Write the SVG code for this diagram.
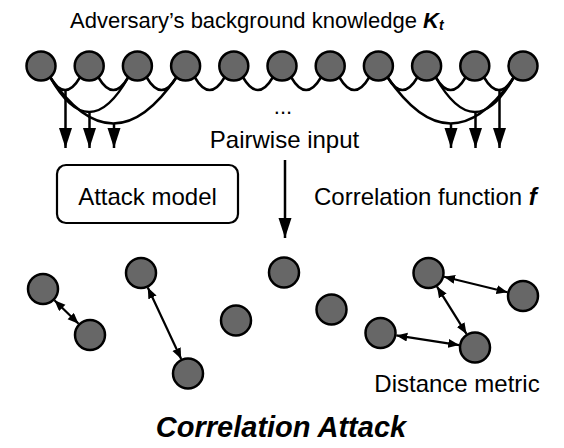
<svg xmlns="http://www.w3.org/2000/svg" width="564" height="448" viewBox="0 0 564 448">
<style>
text{font-family:"Liberation Sans",Arial,Helvetica,sans-serif;fill:#000}
.n{fill:#676767;stroke:#000;stroke-width:2.5}
.c{fill:none;stroke:#000;stroke-width:2.5}
.a{fill:none;stroke:#000;stroke-width:2.5;marker-end:url(#big)}
.d{fill:none;stroke:#000;stroke-width:2.2;marker-start:url(#sm);marker-end:url(#sm)}
.t{font-size:24px}
</style>
<defs>
<marker id="big" markerUnits="userSpaceOnUse" markerWidth="20" markerHeight="14" refX="20" refY="6.5" orient="auto"><path d="M0,0 L20,6.5 L0,13 z" fill="#000"/></marker>
<marker id="sm" markerUnits="userSpaceOnUse" markerWidth="12" markerHeight="10" refX="11" refY="4.5" orient="auto-start-reverse"><path d="M0,0 L11,4.5 L0,9 z" fill="#000"/></marker>
</defs>
<rect width="564" height="448" fill="#fff"/>
<text x="70" y="28" style="font-size:22px">Adversary’s background knowledge <tspan font-weight="bold" font-style="italic">K</tspan><tspan font-weight="bold" font-style="italic" font-size="14" dy="2">t</tspan></text>
<g id="connectors">
<path class="c" d="M50 77 Q65.1 103 80.2 77 M98.2 77 Q113.3 103 128.4 77 M146.4 77 Q161.5 103 176.6 77 M194.6 77 Q209.7 103 224.8 77 M242.8 77 Q257.9 103 273 77 M291 77 Q306.1 103 321.2 77 M339.2 77 Q354.3 103 369.4 77 M387.4 77 Q402.5 103 417.6 77 M435.6 77 Q450.7 103 465.8 77 M483.8 77 Q498.9 103 514 77"/>
<path class="c" d="M50 77 Q89.2 147 128.4 77"/>
<path class="c" d="M50 77 Q113.3 170 176.6 77"/>
<path class="c" d="M514 77 Q474.8 147 435.6 77"/>
<path class="c" d="M514 77 Q450.7 170 387.4 77"/>
<line class="a" x1="65.5" y1="90" x2="65.5" y2="148"/>
<line class="a" x1="89.5" y1="112" x2="89.5" y2="148"/>
<line class="a" x1="114" y1="123" x2="114" y2="148"/>
<line class="a" x1="451" y1="123" x2="451" y2="148"/>
<line class="a" x1="475.5" y1="112" x2="475.5" y2="148"/>
<line class="a" x1="499.5" y1="90" x2="499.5" y2="148"/>
<line class="a" x1="285" y1="160" x2="285" y2="238"/>
<line class="d" x1="54.4" y1="300.2" x2="78.6" y2="323.8"/>
<line class="d" x1="147.8" y1="287.5" x2="181.2" y2="359"/>
<line class="d" x1="444" y1="276.8" x2="507.5" y2="292.2"/>
<line class="d" x1="437" y1="286.6" x2="466.5" y2="333.9"/>
<line class="d" x1="396.3" y1="335.4" x2="459.2" y2="345.1"/>
</g>
<g id="k1"><circle class="n" cx="41" cy="66" r="14.5"/></g>
<g id="k2"><circle class="n" cx="89.2" cy="66" r="14.5"/></g>
<g id="k3"><circle class="n" cx="137.4" cy="66" r="14.5"/></g>
<g id="k4"><circle class="n" cx="185.6" cy="66" r="14.5"/></g>
<g id="k5"><circle class="n" cx="233.8" cy="66" r="14.5"/></g>
<g id="k6"><circle class="n" cx="282" cy="66" r="14.5"/></g>
<g id="k7"><circle class="n" cx="330.2" cy="66" r="14.5"/></g>
<g id="k8"><circle class="n" cx="378.4" cy="66" r="14.5"/></g>
<g id="k9"><circle class="n" cx="426.6" cy="66" r="14.5"/></g>
<g id="k10"><circle class="n" cx="474.8" cy="66" r="14.5"/></g>
<g id="k11"><circle class="n" cx="523" cy="66" r="14.5"/></g>
<text x="283" y="114" text-anchor="middle" style="font-size:22px">...</text>
<text class="t" x="284.5" y="148" text-anchor="middle">Pairwise input</text>
<g id="attack-model"><rect x="57" y="165" width="181" height="58" rx="9" fill="#fff" stroke="#000" stroke-width="2.2"/><text class="t" x="147.5" y="205" text-anchor="middle">Attack model</text></g>
<text class="t" x="314" y="205">Correlation function <tspan font-weight="bold" font-style="italic">f</tspan></text>
<g id="b1"><circle class="n" cx="43" cy="289" r="15"/></g>
<g id="b2"><circle class="n" cx="90" cy="335" r="15"/></g>
<g id="b3"><circle class="n" cx="141" cy="273" r="15"/></g>
<g id="b4"><circle class="n" cx="188" cy="373.5" r="15"/></g>
<g id="b5"><circle class="n" cx="236" cy="320.5" r="15"/></g>
<g id="b6"><circle class="n" cx="284" cy="272.5" r="15"/></g>
<g id="b7"><circle class="n" cx="331.5" cy="309.5" r="15"/></g>
<g id="b8"><circle class="n" cx="380.5" cy="333" r="15"/></g>
<g id="b9"><circle class="n" cx="428.5" cy="273" r="15"/></g>
<g id="b10"><circle class="n" cx="523" cy="296" r="15"/></g>
<g id="b11"><circle class="n" cx="475" cy="347.5" r="15"/></g>
<text class="t" x="457" y="392" text-anchor="middle">Distance metric</text>
<text x="281" y="437" text-anchor="middle" font-weight="bold" font-style="italic" style="font-size:29px">Correlation Attack</text>
</svg>
